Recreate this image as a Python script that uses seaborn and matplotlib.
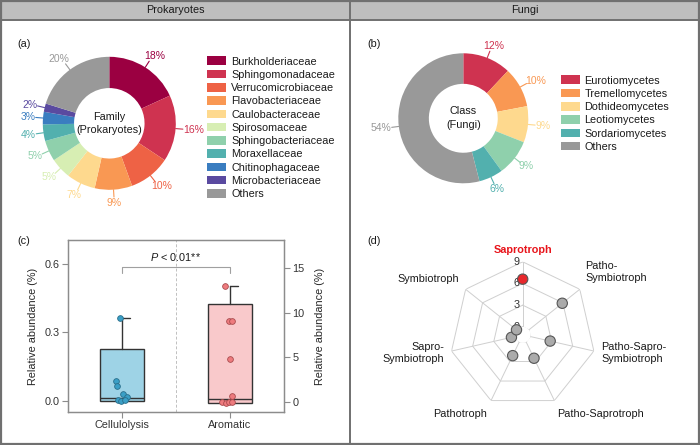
import numpy as np
import matplotlib
matplotlib.use("Agg")
import matplotlib.pyplot as plt
import matplotlib.patches as mpatches
from matplotlib.lines import Line2D
import seaborn as sns

# ------------------------------------------------------------------ data
prok_families = ["Burkholderiaceae", "Sphingomonadaceae", "Verrucomicrobiaceae",
                 "Flavobacteriaceae", "Caulobacteraceae", "Spirosomaceae",
                 "Sphingobacteriaceae", "Moraxellaceae", "Chitinophagaceae",
                 "Microbacteriaceae", "Others"]
prok_pct = [18, 16, 10, 9, 7, 5, 5, 4, 3, 2, 20]
prok_colors = ["#9B0041", "#CF3350", "#EE6245", "#F99853", "#FED98E", "#D7EEB3",
               "#8FD0AC", "#52B0AE", "#3A7DC0", "#5A4AA0", "#999999"]

fungi_classes = ["Eurotiomycetes", "Tremellomycetes", "Dothideomycetes",
                 "Leotiomycetes", "Sordariomycetes", "Others"]
fungi_pct = [12, 10, 9, 9, 6, 54]
fungi_colors = ["#CF3350", "#F99853", "#FED98E", "#8FD0AC", "#52B0AE", "#999999"]

groups = ["Cellulolysis", "Aromatic"]
cell_values = [0.364, 0.087, 0.065, 0.029, 0.017, 0.003, 0.002, 0.004]
cell_jitter = [-0.015, -0.06, -0.046, 0.01, 0.05, -0.037, -0.006, 0.025]
arom_values = [13.0, 9.1, 9.05, 4.85, 0.7, 0.0, -0.05, 0.0, 0.05]
arom_jitter = [-0.05, -0.006, 0.02, 0.0, 0.021, -0.077, -0.04, -0.006, 0.015]
cell_box = dict(q1=0.0, med=0.012, q3=0.226, whislo=0.0, whishi=0.364)
arom_box = dict(q1=-0.05, med=0.35, q3=11.0, whislo=-0.05, whishi=13.0)
cell_ticks = [0.0, 0.3, 0.6]
arom_ticks = [0, 5, 10, 15]
p_text = "$P$ < 0.01**"

guilds = ["Saprotroph", "Patho-\nSymbiotroph", "Patho-Sapro-\nSymbiotroph",
          "Patho-Saprotroph", "Pathotroph", "Sapro-\nSymbiotroph", "Symbiotroph"]
guild_values = [6.6, 5.9, 2.8, 2.5, 2.1, 0.5, 0.0]
radar_ticks = [0, 3, 6, 9]
highlight = "Saprotroph"

# ------------------------------------------------------------------ style
sns.set_theme(style="white")
plt.rcParams['font.family'] = ['Liberation Sans', 'DejaVu Sans']
plt.rcParams['mathtext.fontset'] = 'custom'
plt.rcParams['mathtext.it'] = 'Liberation Sans:italic'
plt.rcParams['mathtext.rm'] = 'Liberation Sans'
plt.rcParams['text.color'] = '#1a1a1a'
FS = 7.8

W, H = 700, 445
fig = plt.figure(figsize=(7, 4.45), dpi=100)
fig.patch.set_facecolor('white')


def box(x0, y0, w, h):
    return [x0 / W, 1 - (y0 + h) / H, w / W, h / H]


# frame and header strip
fig.add_artist(mpatches.Rectangle((0, 1 - 19.5 / H), 1, 19.5 / H, transform=fig.transFigure,
                                  facecolor='#BEBEBE', edgecolor='none', zorder=0))
frame_kw = dict(color='#707070', lw=1.4, transform=fig.transFigure)
fig.add_artist(Line2D([0, 1], [1 - 19.5 / H] * 2, **frame_kw))
fig.add_artist(Line2D([350.5 / W] * 2, [0, 1], **frame_kw))
fig.add_artist(mpatches.Rectangle((0.7 / W, 0.7 / H), 1 - 1.4 / W, 1 - 1.4 / H, transform=fig.transFigure,
                                  fill=False, edgecolor='#707070', lw=1.6))
fig.text(175 / W, 1 - 10 / H, "Prokaryotes", ha='center', va='center', fontsize=FS)
fig.text(525 / W, 1 - 10 / H, "Fungi", ha='center', va='center', fontsize=FS)

for lab, (x, y) in zip(["(a)", "(b)", "(c)", "(d)"], [(24, 44), (374, 44), (24, 241), (374, 241)]):
    fig.text(x / W, 1 - y / H, lab, ha='center', va='center', fontsize=FS)


# ------------------------------------------------------------------ donuts
def donut(cx, cy, R, values, colors, center_text):
    ax = fig.add_axes(box(cx - 100, cy - 100, 200, 200))
    ax.pie(values, colors=colors, startangle=90, counterclock=False, radius=1,
           wedgeprops=dict(width=0.47, linewidth=0))
    L = 100 / R
    ax.set_xlim(-L, L)
    ax.set_ylim(-L, L)
    ax.set_aspect('equal')
    ax.axis('off')
    total = float(sum(values))
    cum = 0.0
    fs_px = 7.5 * 100 / 72
    for v, c in zip(values, colors):
        mid = (cum + v / 2) / total * 2 * np.pi
        cum += v
        s, co = np.sin(mid), np.cos(mid)
        ax.plot([s * 1.0, s * 1.11], [co * 1.0, co * 1.11], color=c, lw=0.8)
        txt = f"{v}%"
        w_px = len(txt) * 0.55 * fs_px
        h_px = 0.75 * fs_px
        dx = (0.5 * w_px * s + 2 * s) * 72 / 100
        dy = (0.5 * h_px * co + 2 * co) * 72 / 100
        ax.annotate(txt, xy=(s * 1.11, co * 1.11), xytext=(dx, dy), textcoords='offset points',
                    ha='center', va='center', color=c, fontsize=7.5)
    ax.text(0, 0, center_text, ha='center', va='center', fontsize=FS, linespacing=1.45)
    return ax


donut(109.3, 123.3, 66.5, prok_pct, prok_colors, "Family\n(Prokaryotes)")
donut(463.3, 118.3, 65, fungi_pct, fungi_colors, "Class\n(Fungi)")

leg_kw = dict(loc='upper left', frameon=False, fontsize=FS, handlelength=1.75, handleheight=0.83,
              handletextpad=0.45, labelspacing=0.30, borderpad=0, borderaxespad=0,
              bbox_transform=fig.transFigure)
fig.legend(handles=[mpatches.Patch(facecolor=c, edgecolor='none', label=l)
                    for l, c in zip(prok_families, prok_colors)],
           bbox_to_anchor=(207.3 / W, 1 - 56.5 / H), **leg_kw)
fig.legend(handles=[mpatches.Patch(facecolor=c, edgecolor='none', label=l)
                    for l, c in zip(fungi_classes, fungi_colors)],
           bbox_to_anchor=(560.7 / W, 1 - 75.5 / H), **leg_kw)

# ------------------------------------------------------------------ box plot (c)
axc = fig.add_axes(box(68, 240, 216, 172))
ax2 = axc.twinx()
edge = '#333333'
common = dict(widths=0.4, patch_artist=True, showcaps=False, showfliers=False,
              medianprops=dict(color=edge, lw=1.0), whiskerprops=dict(color=edge, lw=1.0))
axc.bxp([dict(cell_box, fliers=[], label='')], positions=[0],
        boxprops=dict(facecolor='#9ED3E6', edgecolor=edge, linewidth=1.0), **common)
ax2.bxp([dict(arom_box, fliers=[], label='')], positions=[1],
        boxprops=dict(facecolor='#F9C9CB', edgecolor=edge, linewidth=1.0), **common)
axc.plot([0, 0.075], [cell_box['whishi']] * 2, color=edge, lw=1.0)
ax2.plot([1, 1.07], [arom_box['whishi']] * 2, color=edge, lw=1.0)

sns.scatterplot(x=np.array(cell_jitter) + 0, y=cell_values, ax=axc, color='#3A9FC6',
                edgecolor='#2A6E8A', s=17, linewidth=0.6, zorder=4)
sns.scatterplot(x=np.array(arom_jitter) + 1, y=arom_values, ax=ax2, color='#EE7B7E',
                edgecolor='#A84B4E', s=17, linewidth=0.6, zorder=4)

axc.axvline(0.5, color='#C0C0C0', ls=(0, (3, 2)), lw=0.7, zorder=0)
by = 0.583
axc.plot([0, 0, 1, 1], [by - 0.024, by, by, by - 0.024], color='#A0A0A0', lw=0.8)
axc.text(0.5, 0.627, p_text, ha='center', va='center', fontsize=FS)

axc.set_xlim(-0.5, 1.5)
axc.set_ylim(-0.048, 0.703)
ax2.set_ylim(-1.08, 18.08)
axc.set_xticks([0, 1])
axc.set_xticklabels(groups)
axc.set_yticks(cell_ticks)
axc.set_yticklabels([f"{t:.1f}" for t in cell_ticks])
ax2.set_yticks(arom_ticks)
ax2.set_yticklabels([str(t) for t in arom_ticks])
axc.set_xlabel("")
axc.set_ylabel("Relative abundance (%)", fontsize=FS)
ax2.set_ylabel("Relative abundance (%)", fontsize=FS)
axc.yaxis.set_label_coords(-30 / 216, 0.5)
ax2.yaxis.set_label_coords(1 + 31 / 216, 0.5)
for a in (axc, ax2):
    for sp in a.spines.values():
        sp.set_color('#8C8C8C')
        sp.set_linewidth(0.9)
    a.tick_params(direction='out', length=4, width=0.8, color='#8C8C8C', labelcolor='#333333',
                  labelsize=FS, pad=2)
axc.tick_params(bottom=True, left=True)
ax2.tick_params(right=True)

# ------------------------------------------------------------------ radar (d)
R = 73
cx, cy = 522.7, 334.8
axr = fig.add_axes(box(cx - R, cy - R, 2 * R, 2 * R), projection='polar')
axr.set_theta_offset(np.pi / 2)
axr.set_theta_direction(-1)
axr.set_ylim(0, 9)
axr.set_rorigin(-1.1)
axr.set_axis_off()
n = len(guilds)
thetas = np.arange(n) * 2 * np.pi / n
ring_t = np.r_[thetas, thetas[0]]
for v in radar_ticks:
    axr.plot(ring_t, [v] * (n + 1), color='#CFCFCF', lw=0.7, zorder=1)
for t in thetas:
    axr.plot([t, t], [0, radar_ticks[-1]], color='#CFCFCF', lw=0.7, zorder=1)
for v in radar_ticks:
    axr.annotate(str(v), xy=(0, v), xytext=(-4.3, 0), textcoords='offset points',
                 ha='center', va='center', fontsize=FS, color='#333333', zorder=2)
pal = {g: ('#E8282C' if g == highlight else '#ABABAB') for g in guilds}
sns.scatterplot(x=thetas, y=guild_values, hue=guilds, palette=pal, ax=axr, s=55,
                edgecolor='#555555', linewidth=0.8, legend=False, zorder=5, clip_on=False)

# label layout: (theta in degrees clockwise from top, radius in data units, ha)
label_layout = [(0, 10.6, 'center'), (44.6, 11.2, 'left'), (103.2, 10.1, 'left'),
                (135.4, 14.3, 'center'), (218.4, 12.9, 'center'), (256.7, 10.05, 'right'),
                (300.6, 14.1, 'center')]
for g, (ang, rr, ha) in zip(guilds, label_layout):
    bold = g == highlight
    axr.text(np.deg2rad(ang), rr, g, ha=ha, va='center', fontsize=FS,
             color='#E8141B' if bold else '#1a1a1a', fontweight='bold' if bold else 'normal',
             linespacing=1.25, clip_on=False)

fig.savefig("out.png", dpi=100)
